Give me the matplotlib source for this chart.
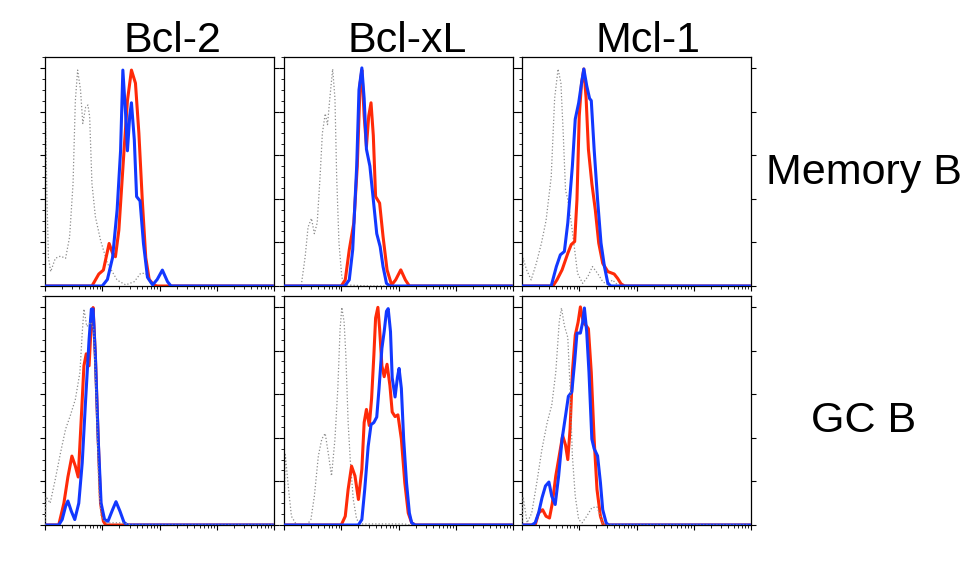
import matplotlib
matplotlib.use("Agg")
import matplotlib.pyplot as plt
from matplotlib.ticker import LogLocator, MultipleLocator, NullFormatter
import numpy as np

plt.rcParams['font.family'] = ['Liberation Sans', 'DejaVu Sans']

col_titles = ['Bcl-2', 'Bcl-xL', 'Mcl-1']
row_titles = ['Memory B', 'GC B']

# histogram outlines: (position in decades, % of max)
# --- Bcl-2, Memory B
bcl2_mem_red = [(0.02, 0), (0.82, 0), (0.94, 5.5), (1.02, 7.3), (1.12, 19.5), (1.18, 15), (1.23, 13.4),
                (1.29, 25.6), (1.38, 62), (1.44, 85), (1.51, 99), (1.58, 93), (1.64, 70), (1.70, 39),
                (1.76, 13), (1.82, 3), (1.90, 0.5), (1.96, 0), (3.97, 0)]
bcl2_mem_blue = [(0.02, 0), (1.0, 0), (1.09, 3), (1.18, 13), (1.26, 35), (1.32, 62), (1.36, 99), (1.41, 78),
                 (1.44, 62), (1.48, 78), (1.51, 84), (1.56, 67), (1.60, 41), (1.66, 39), (1.72, 19.5),
                 (1.79, 4), (1.88, 0.5), (1.96, 3), (2.05, 7.3), (2.14, 2), (2.2, 0), (3.97, 0)]
bcl2_mem_gray = [(0.0, 0), (0.01, 75), (0.035, 39), (0.06, 13), (0.1, 6.6), (0.18, 12.7), (0.27, 13.7),
                 (0.36, 12.7), (0.43, 22.6), (0.49, 47), (0.53, 85), (0.57, 99), (0.62, 90), (0.66, 74.5),
                 (0.71, 82), (0.75, 83), (0.78, 77.6), (0.82, 47), (0.88, 31.8), (0.97, 21), (1.09, 10.4),
                 (1.26, 2.7), (1.41, 0.5), (1.56, 2), (1.67, 5.8), (1.76, 5.8), (1.85, 1), (1.96, 0), (3.97, 0)]
# --- Bcl-xL, Memory B
bclxl_mem_red = [(0.02, 0), (1.0, 0), (1.07, 2.8), (1.14, 16.6), (1.22, 29), (1.28, 55), (1.33, 93), (1.36, 99),
                 (1.40, 78), (1.44, 64), (1.48, 78), (1.52, 84), (1.56, 69), (1.60, 41), (1.67, 38),
                 (1.73, 22.7), (1.80, 7.4), (1.88, 0.5), (1.95, 2.8), (2.04, 7.4), (2.12, 2.8), (2.19, 0), (3.97, 0)]
bclxl_mem_blue = [(0.02, 0), (1.06, 0), (1.14, 2.8), (1.20, 16.6), (1.27, 55), (1.31, 90), (1.36, 100),
                  (1.40, 86), (1.44, 62.7), (1.50, 55), (1.56, 39.6), (1.62, 24), (1.68, 18), (1.73, 8.9),
                  (1.79, 1.2), (1.85, 0), (3.97, 0)]
bclxl_mem_gray = [(0.02, 0), (0.30, 0), (0.37, 13.5), (0.42, 27), (0.48, 31), (0.53, 24), (0.58, 29), (0.63, 50),
                  (0.67, 70), (0.72, 79), (0.76, 74), (0.80, 86), (0.85, 99.5), (0.89, 86), (0.92, 50),
                  (0.96, 19.7), (1.01, 4), (1.06, 0.5), (1.5, 0), (3.97, 0)]
# --- Mcl-1, Memory B
mcl1_mem_red = [(0.02, 0), (0.54, 0), (0.61, 2.8), (0.70, 7.4), (0.80, 15), (0.86, 19), (0.92, 20.4),
                (0.96, 39.6), (1.0, 78), (1.04, 93), (1.08, 99.5), (1.12, 86), (1.16, 62.7), (1.22, 47),
                (1.28, 35), (1.34, 19.7), (1.41, 10.4), (1.50, 6.6), (1.61, 5.5), (1.67, 3.5), (1.73, 1),
                (1.79, 0), (3.97, 0)]
mcl1_mem_blue = [(0.02, 0), (0.51, 0), (0.60, 8.9), (0.67, 14.3), (0.74, 15.8), (0.80, 29), (0.88, 55),
                 (0.93, 76.5), (0.99, 84), (1.04, 93), (1.08, 99.5), (1.13, 91.9), (1.18, 86), (1.21, 85),
                 (1.26, 62.7), (1.32, 39.6), (1.38, 19.7), (1.44, 8.9), (1.50, 1.2), (1.55, 0), (3.97, 0)]
mcl1_mem_gray = [(0.0, 0), (0.02, 12.7), (0.08, 7.4), (0.16, 2.8), (0.25, 10.4), (0.34, 19.7), (0.42, 30),
                 (0.51, 50), (0.57, 86), (0.63, 99.5), (0.68, 93), (0.72, 70), (0.76, 44), (0.80, 39.6),
                 (0.86, 29), (0.92, 16.6), (0.97, 5.8), (1.06, 1.2), (1.15, 4.3), (1.23, 8.9), (1.32, 5.8),
                 (1.41, 2), (1.5, 0.5), (1.58, 2.8), (1.67, 0.5), (1.75, 0), (3.97, 0)]
# --- Bcl-2, GC B
bcl2_gc_red = [(0.02, 0), (0.24, 0), (0.33, 10), (0.40, 22), (0.47, 31.6), (0.53, 27), (0.58, 22), (0.63, 47),
               (0.68, 73), (0.72, 78.5), (0.77, 73), (0.81, 93), (0.84, 99.7), (0.88, 77.5), (0.93, 39),
               (0.97, 10), (1.02, 1.7), (1.06, 0), (3.97, 0)]
bcl2_gc_blue = [(0.02, 0), (0.24, 0), (0.30, 2.5), (0.36, 8.6), (0.40, 11), (0.46, 6.3), (0.52, 2.5), (0.59, 10),
                (0.65, 28.5), (0.71, 57.6), (0.77, 85), (0.81, 99), (0.84, 99), (0.88, 77.5), (0.93, 39),
                (0.98, 10), (1.04, 2.5), (1.10, 1.7), (1.18, 7), (1.24, 10.7), (1.31, 6.3), (1.38, 1.2),
                (1.44, 0), (3.97, 0)]
bcl2_gc_gray = [(0.0, 0), (0.02, 13), (0.09, 10), (0.18, 21), (0.27, 33), (0.36, 44), (0.44, 50), (0.53, 57.6),
                (0.61, 70), (0.65, 88), (0.68, 99), (0.73, 91), (0.80, 93), (0.85, 90), (0.90, 54), (0.94, 16),
                (0.98, 4), (1.06, 1), (1.38, 1), (1.5, 0), (3.97, 0)]
# --- Bcl-xL, GC B
bclxl_gc_red = [(0.02, 0), (1.0, 0), (1.07, 4), (1.12, 16.3), (1.18, 27), (1.24, 22.5), (1.30, 11.7),
                (1.36, 25.6), (1.40, 47), (1.44, 53), (1.49, 45.6), (1.53, 58), (1.57, 78), (1.60, 94.9),
                (1.64, 99.8), (1.67, 90), (1.71, 73), (1.75, 68), (1.80, 73.7), (1.85, 64), (1.89, 51.8),
                (1.94, 49.7), (1.99, 50.5), (2.05, 39.4), (2.11, 19.4), (2.17, 5.5), (2.23, 1), (2.29, 0), (3.97, 0)]
bclxl_gc_blue = [(0.02, 0), (1.30, 0), (1.36, 2.5), (1.41, 16.3), (1.47, 36), (1.52, 46), (1.57, 47),
                 (1.62, 49.5), (1.66, 62.6), (1.71, 81), (1.75, 88.7), (1.79, 98), (1.82, 99.2), (1.86, 88.7),
                 (1.89, 67.5), (1.94, 58.7), (1.98, 67.5), (2.01, 71.8), (2.05, 62.6), (2.09, 39.4),
                 (2.14, 19.4), (2.19, 5.5), (2.23, 1), (2.29, 0), (3.97, 0)]
bclxl_gc_gray = [(0.0, 0), (0.02, 33), (0.08, 16.3), (0.13, 4), (0.22, 0), (0.40, 0), (0.47, 2.5), (0.53, 13.2),
                 (0.60, 31.7), (0.66, 39.4), (0.72, 42), (0.78, 31.7), (0.83, 22.5), (0.89, 39.4), (0.94, 62.6),
                 (0.98, 90), (1.01, 99.8), (1.05, 93), (1.08, 78), (1.12, 47), (1.16, 28.7), (1.21, 11.7),
                 (1.27, 2.5), (1.36, 0.5), (2.1, 0.5), (2.2, 0), (3.97, 0)]
# --- Mcl-1, GC B
mcl1_gc_red = [(0.02, 0), (0.23, 0), (0.29, 5.5), (0.36, 7), (0.42, 4), (0.48, 3.2), (0.53, 10), (0.59, 22.5),
               (0.65, 31.7), (0.71, 41), (0.76, 36.7), (0.80, 30), (0.84, 44), (0.88, 70), (0.93, 87),
               (0.98, 93), (1.02, 100), (1.07, 93), (1.12, 91.4), (1.16, 90), (1.21, 70), (1.26, 39.4),
               (1.31, 16.3), (1.37, 4), (1.42, 0), (3.97, 0)]
mcl1_gc_blue = [(0.02, 0), (0.17, 0), (0.23, 1), (0.29, 5.5), (0.35, 12.5), (0.41, 17.9), (0.47, 19.7),
                (0.52, 13.2), (0.58, 9.4), (0.64, 22.5), (0.70, 39.4), (0.76, 50), (0.81, 59), (0.87, 61),
                (0.92, 75), (0.96, 88), (1.02, 88), (1.06, 93), (1.09, 99.5), (1.13, 88.7), (1.17, 70),
                (1.22, 39.4), (1.26, 35), (1.32, 31.7), (1.37, 19.4), (1.41, 7), (1.47, 1), (1.51, 0), (3.97, 0)]
mcl1_gc_gray = [(0.0, 0), (0.02, 13), (0.09, 1), (0.17, 5.5), (0.26, 19.7), (0.35, 35), (0.44, 47), (0.52, 55),
                (0.59, 70), (0.65, 93), (0.69, 99.5), (0.74, 91.4), (0.80, 86), (0.84, 62.6), (0.88, 31.7),
                (0.93, 13.2), (0.99, 2.5), (1.05, 1), (1.13, 4), (1.22, 7.9), (1.31, 8.3), (1.37, 4),
                (1.42, 0), (3.97, 0)]

panels = [
    [(bcl2_mem_red, bcl2_mem_blue, bcl2_mem_gray),
     (bclxl_mem_red, bclxl_mem_blue, bclxl_mem_gray),
     (mcl1_mem_red, mcl1_mem_blue, mcl1_mem_gray)],
    [(bcl2_gc_red, bcl2_gc_blue, bcl2_gc_gray),
     (bclxl_gc_red, bclxl_gc_blue, bclxl_gc_gray),
     (mcl1_gc_red, mcl1_gc_blue, mcl1_gc_gray)],
]

RED = '#ff2a08'
BLUE = '#1238ff'
GRAY = '#8c8c8c'

W, H = 972, 565
fig = plt.figure(figsize=(W / 100, H / 100), dpi=100)

col_left = [45, 284, 522]
row_bottom = [286, 525]
size = 229

for r in range(2):
    for c in range(3):
        ax = fig.add_axes([col_left[c] / W, 1 - row_bottom[r] / H, size / W, size / H])
        red, blue, gray = panels[r][c]
        # gray control on top where its dots show over the baseline
        gray_z = 4 if (r == 1 and c != 1) else 1
        for pts, color, lw, ls, z in [(gray, GRAY, 0.9, ':', gray_z),
                                      (red, RED, 2.2, '-', 2),
                                      (blue, BLUE, 2.2, '-', 3)]:
            xs = [10 ** p[0] for p in pts]
            ys = [p[1] for p in pts]
            ax.plot(xs, ys, color=color, lw=lw, ls=ls, zorder=z, solid_joinstyle='round')
        ax.set_xscale('log')
        ax.set_xlim(1, 1e4)
        ax.set_ylim(0, 105)
        ax.xaxis.set_major_locator(LogLocator(base=10, numticks=10))
        ax.xaxis.set_minor_locator(LogLocator(base=10, subs=np.arange(2, 10), numticks=10))
        ax.yaxis.set_major_locator(MultipleLocator(20))
        ax.yaxis.set_minor_locator(MultipleLocator(5))
        ax.xaxis.set_major_formatter(NullFormatter())
        ax.xaxis.set_minor_formatter(NullFormatter())
        ax.yaxis.set_major_formatter(NullFormatter())
        ax.tick_params(which='major', direction='out', length=3.5, width=0.8, right=True)
        ax.tick_params(which='minor', direction='out', length=2, width=0.6)
        ax.tick_params(axis='y', which='minor', right=False)
        for s in ax.spines.values():
            s.set_linewidth(0.9)

title_x = [172, 407, 648]
for c in range(3):
    fig.text(title_x[c] / W, 1 - 52 / H, col_titles[c], ha='center', va='baseline', fontsize=31)

row_y = [184, 432]
for r in range(2):
    fig.text(864 / W, 1 - row_y[r] / H, row_titles[r], ha='center', va='baseline', fontsize=31)

plt.savefig('out.png', dpi=100)
plt.close()
